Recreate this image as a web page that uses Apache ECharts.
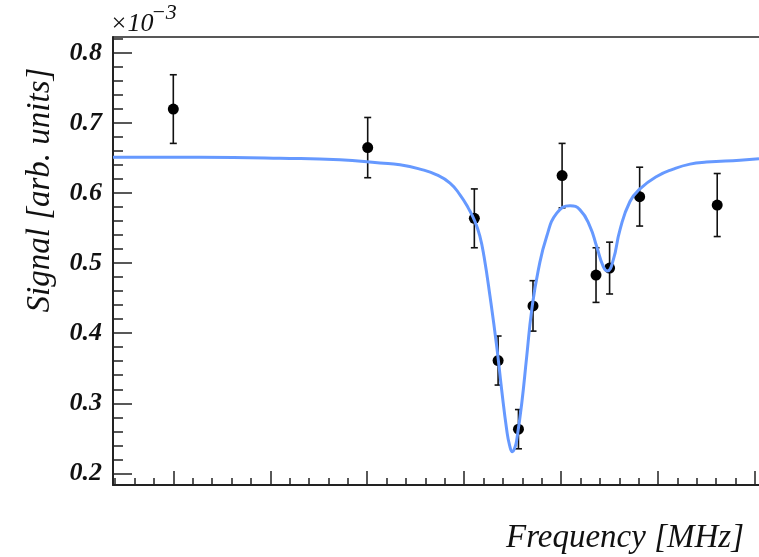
<!DOCTYPE html>
<html>
<head>
<meta charset="utf-8">
<script src="https://cdn.jsdelivr.net/npm/echarts@6/dist/echarts.min.js"></script>
<style>
  html, body { margin: 0; padding: 0; background: #fff; }
  #chart { width: 759px; height: 557px; }
</style>
</head>
<body>
<div id="chart"></div>
<script>
// Measured scan: frequency (MHz), signal (x10^-3 arb. units) and its 1-sigma error
const freq   = [10.0, 30.05, 41.05, 43.5, 45.6, 47.1, 50.1, 53.6, 55.0, 58.1, 66.1];
const signal = [0.720, 0.665, 0.564, 0.361, 0.263, 0.439, 0.625, 0.483, 0.493, 0.595, 0.583];
const sigErr = [0.049, 0.043, 0.042, 0.035, 0.028, 0.036, 0.046, 0.039, 0.037, 0.042, 0.045];

// Fitted line shape (two dips), sampled along the frequency axis
const fitFreq = [3.78, 12.75, 21.0, 27.19, 31.32, 33.38, 35.45, 37.17, 38.54, 39.57,
                 40.43, 41.12, 41.63, 42.05, 42.67, 43.36, 43.87, 44.39, 44.68, 44.97,
                 45.25, 45.42, 45.94, 46.45, 46.97, 47.65, 48.51, 49.55, 50.92, 51.95,
                 52.98, 53.67, 54.35, 54.78, 55.38, 56.07, 57.1, 58.13, 59.86, 61.57,
                 63.29, 65.0, 68.45, 70.41];
const fitSignal = [0.6514, 0.6511, 0.6497, 0.6476, 0.6429, 0.6404, 0.6343, 0.6261, 0.6143, 0.5976,
                   0.5786, 0.5594, 0.5380, 0.5094, 0.4523, 0.3809, 0.3190, 0.2619, 0.2404, 0.2309,
                   0.2376, 0.2476, 0.3000, 0.3666, 0.4333, 0.4904, 0.5380, 0.5714, 0.5819, 0.5761,
                   0.5523, 0.5237, 0.4951, 0.4890, 0.5047, 0.5476, 0.5880, 0.6060, 0.6237, 0.6343,
                   0.6414, 0.6443, 0.6471, 0.6490];

// Axis ranges and tick positions
const xRange = [3.78, 70.41];
const yRange = [0.1833, 0.8229];
const xMajorTicks = [10, 20, 30, 40, 50, 60, 70];
const yMajorTicks = [0.2, 0.3, 0.4, 0.5, 0.6, 0.7, 0.8];

function steps(from, to, step) {
  const out = [];
  for (let v = from; v <= to + 1e-9; v += step) out.push(+v.toFixed(4));
  return out;
}
const xMinorTicks = steps(4, 70, 2);
const yMinorTicks = steps(0.2, 0.82, 0.02);

const AX = '#222';
const serif = '"Liberation Serif", "DejaVu Serif", serif';

const chart = echarts.init(document.getElementById('chart'), null, { renderer: 'canvas' });

const bareAxis = {
  type: 'value',
  axisLine: { show: false },
  axisLabel: { show: false },
  splitLine: { show: false }
};

chart.setOption({
  animation: false,
  backgroundColor: '#fff',
  grid: { left: 113, top: 37, right: 0, bottom: 72, containLabel: false },
  xAxis: [
    Object.assign({}, bareAxis, {
      min: xRange[0], max: xRange[1], position: 'bottom',
      axisLine: { show: true, onZero: false, lineStyle: { color: AX, width: 2 } },
      axisTick: { show: true, inside: true, length: 14, customValues: xMajorTicks,
                  lineStyle: { color: AX, width: 1.5 } }
    }),
    Object.assign({}, bareAxis, {
      min: xRange[0], max: xRange[1], position: 'bottom',
      axisLine: { show: false, onZero: false },
      axisTick: { show: true, inside: true, length: 7, customValues: xMinorTicks,
                  lineStyle: { color: AX, width: 1.5 } }
    }),
    Object.assign({}, bareAxis, {
      min: xRange[0], max: xRange[1], position: 'top',
      axisLine: { show: true, onZero: false, lineStyle: { color: AX, width: 1.5 } },
      axisTick: { show: false }
    })
  ],
  yAxis: [
    Object.assign({}, bareAxis, {
      min: yRange[0], max: yRange[1], position: 'left',
      axisLine: { show: true, onZero: false, lineStyle: { color: AX, width: 2 } },
      axisTick: { show: true, inside: true, length: 19, customValues: yMajorTicks,
                  lineStyle: { color: AX, width: 1.5 } },
      axisLabel: { show: true, customValues: yMajorTicks, margin: 11,
                   formatter: v => v.toFixed(1),
                   fontFamily: serif, fontStyle: 'italic', fontWeight: 'bold',
                   fontSize: 26, color: '#111' }
    }),
    Object.assign({}, bareAxis, {
      min: yRange[0], max: yRange[1], position: 'left',
      axisLine: { show: false, onZero: false },
      axisTick: { show: true, inside: true, length: 10, customValues: yMinorTicks,
                  lineStyle: { color: AX, width: 1.5 } }
    })
  ],
  series: [
    {
      type: 'custom',
      name: 'errors',
      xAxisIndex: 0, yAxisIndex: 0,
      data: freq.map((f, i) => [f, signal[i] - sigErr[i], signal[i] + sigErr[i]]),
      encode: { x: 0, y: [1, 2] },
      z: 2,
      renderItem: function (params, api) {
        const x = api.value(0);
        const lo = api.coord([x, api.value(1)]);
        const hi = api.coord([x, api.value(2)]);
        const cap = 3.5;
        const st = { stroke: '#111', lineWidth: 1.6 };
        return {
          type: 'group',
          children: [
            { type: 'line', shape: { x1: lo[0], y1: lo[1], x2: hi[0], y2: hi[1] }, style: st },
            { type: 'line', shape: { x1: lo[0] - cap, y1: lo[1], x2: lo[0] + cap, y2: lo[1] }, style: st },
            { type: 'line', shape: { x1: hi[0] - cap, y1: hi[1], x2: hi[0] + cap, y2: hi[1] }, style: st }
          ]
        };
      }
    },
    {
      type: 'scatter',
      name: 'data',
      xAxisIndex: 0, yAxisIndex: 0,
      data: freq.map((f, i) => [f, signal[i]]),
      symbol: 'circle',
      symbolSize: 11,
      itemStyle: { color: '#000', opacity: 1 },
      z: 3
    },
    {
      type: 'line',
      name: 'fit',
      xAxisIndex: 0, yAxisIndex: 0,
      data: fitFreq.map((f, i) => [f, fitSignal[i]]),
      showSymbol: false,
      smooth: 0.5,
      lineStyle: { color: '#6699ff', width: 3 },
      z: 4
    }
  ],
  graphic: [
    {
      type: 'text', x: 40, y: 190, rotation: Math.PI / 2,
      style: { text: 'Signal [arb. units]', fontFamily: serif, fontStyle: 'italic', fontSize: 33,
               fill: '#111', textAlign: 'center', textVerticalAlign: 'middle' }
    },
    {
      type: 'text', x: 744, y: 538,
      style: { text: 'Frequency [MHz]', fontFamily: serif, fontStyle: 'italic', fontSize: 33,
               fill: '#111', textAlign: 'right', textVerticalAlign: 'middle' }
    },
    {
      type: 'text', x: 110, y: 24,
      style: { text: '\u00d710', fontFamily: serif, fontStyle: 'italic', fontSize: 26,
               fill: '#111', textAlign: 'left', textVerticalAlign: 'middle' }
    },
    {
      type: 'text', x: 151, y: 13,
      style: { text: '\u22123', fontFamily: serif, fontStyle: 'italic', fontSize: 22,
               fill: '#111', textAlign: 'left', textVerticalAlign: 'middle' }
    }
  ]
});
</script>
</body>
</html>
